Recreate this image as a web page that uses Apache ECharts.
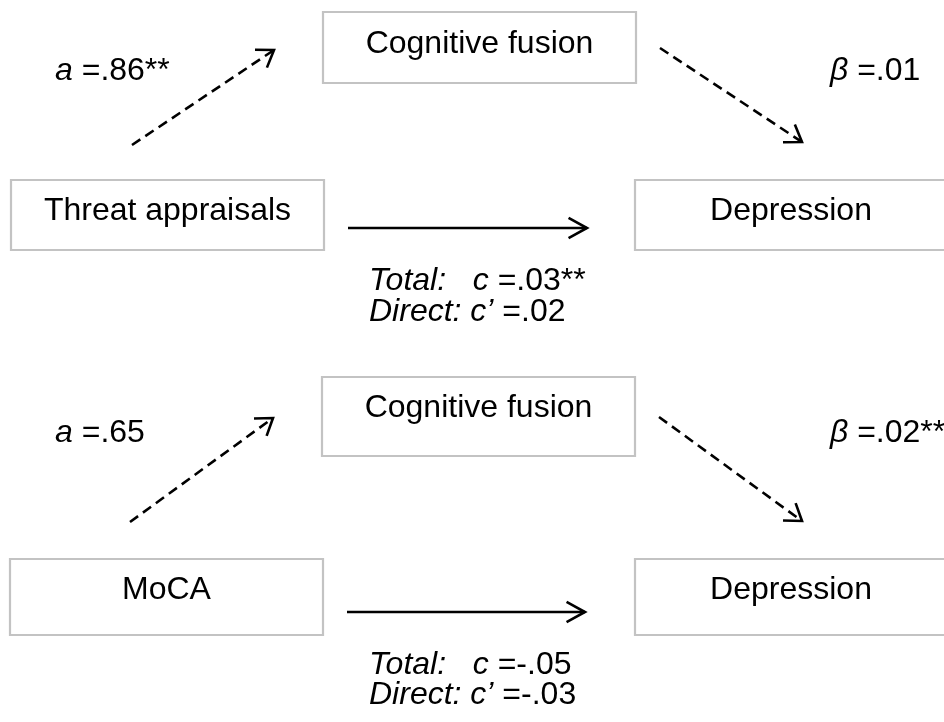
<!DOCTYPE html>
<html>
<head>
<meta charset="utf-8">
<script src="https://cdn.jsdelivr.net/npm/echarts@6/dist/echarts.min.js"></script>
<style>
html,body{margin:0;padding:0;background:#fff;}
#chart{width:944px;height:722px;}
</style>
</head>
<body>
<div id="chart"></div>
<script>
// ---- Data (diagram text / coefficients) ----
const predictors = ['Threat appraisals', 'MoCA'];
const mediators = ['Cognitive fusion', 'Cognitive fusion'];
const outcomes = ['Depression', 'Depression'];
const aCoef = ['.86**', '.65'];
const bCoef = ['.01', '.02**'];
const totalC = ['.03**', '-.05'];
const directC = ['.02', '-.03'];

// ---- Layout (diagram units on a hidden 944 x 722 value grid) ----
const panelLayout = [
  { med: [323, 12, 636, 83, 44], x: [11, 180, 324, 250, 211], y: [635, 180, 947, 250, 211],
    a: [132, 145, 274, 50], b: [660, 48, 802, 142], c: [348, 228, 587, 228],
    aLbl: [55, 71], bLbl: [830, 71], eff: [369, 281, 312] },
  { med: [322, 377, 635, 456, 408], x: [10, 559, 323, 635, 590], y: [635, 559, 947, 635, 590],
    a: [130, 522, 273, 418], b: [659, 417, 802, 521], c: [347, 612, 585, 612],
    aLbl: [55, 433], bLbl: [830, 433], eff: [369, 665, 695] }
];

const FONT_FAMILY = '"Liberation Sans", Arial, Helvetica, sans-serif';
const FS = 32;

// Build series data
const boxData = [], boxText = [];
const arrowData = [], arrowDash = [];
const labelData = [], labelText = [];
panelLayout.forEach((L, i) => {
  [[L.x, predictors[i]], [L.med, mediators[i]], [L.y, outcomes[i]]].forEach(([r, t]) => {
    boxData.push({ value: r });
    boxText.push(t);
  });
  arrowData.push({ value: L.a }); arrowDash.push(true);
  arrowData.push({ value: L.b }); arrowDash.push(true);
  arrowData.push({ value: L.c }); arrowDash.push(false);
  labelData.push({ value: L.aLbl }); labelText.push('{i|a} =' + aCoef[i]);
  labelData.push({ value: L.bLbl }); labelText.push('{i|β} =' + bCoef[i]);
  labelData.push({ value: [L.eff[0], L.eff[1]] }); labelText.push('{i|Total:   c} =' + totalC[i]);
  labelData.push({ value: [L.eff[0], L.eff[2]] }); labelText.push('{i|Direct: c’} =' + directC[i]);
});

const richIt = { i: { fontStyle: 'italic', fontSize: FS, fontFamily: FONT_FAMILY, fill: '#000' } };

const chart = echarts.init(document.getElementById('chart'), null, { renderer: 'canvas' });
chart.setOption({
  animation: false,
  backgroundColor: '#ffffff',
  grid: { left: 0, right: 0, top: 0, bottom: 0 },
  xAxis: { type: 'value', min: 0, max: 944, show: false },
  yAxis: { type: 'value', min: 0, max: 722, inverse: true, show: false },
  series: [
    {
      type: 'custom', clip: false, silent: true,
      data: boxData,
      renderItem: function (params, api) {
        const p1 = api.coord([api.value(0), api.value(1)]);
        const p2 = api.coord([api.value(2), api.value(3)]);
        const ty = api.coord([0, api.value(4)])[1];
        return {
          type: 'group',
          children: [
            { type: 'rect', shape: { x: p1[0], y: p1[1], width: p2[0] - p1[0], height: p2[1] - p1[1] },
              style: { fill: '#fff', stroke: '#c3c3c3', lineWidth: 2.2 } },
            { type: 'text', x: (p1[0] + p2[0]) / 2, y: ty,
              style: { text: boxText[params.dataIndex], fill: '#000', fontSize: FS, fontFamily: FONT_FAMILY,
                       align: 'center', verticalAlign: 'middle' } }
          ]
        };
      }
    },
    {
      type: 'custom', clip: false, silent: true,
      data: arrowData,
      renderItem: function (params, api) {
        const p1 = api.coord([api.value(0), api.value(1)]);
        const p2 = api.coord([api.value(2), api.value(3)]);
        const ang = Math.atan2(p2[1] - p1[1], p2[0] - p1[0]);
        const dashed = arrowDash[params.dataIndex];
        const h = dashed ? 19 : 21, sp = dashed ? 0.6 : 0.5;
        const l = [p2[0] - h * Math.cos(ang - sp), p2[1] - h * Math.sin(ang - sp)];
        const r = [p2[0] - h * Math.cos(ang + sp), p2[1] - h * Math.sin(ang + sp)];
        return {
          type: 'group',
          children: [
            { type: 'line', shape: { x1: p1[0], y1: p1[1], x2: p2[0], y2: p2[1] },
              style: { stroke: '#000', lineWidth: 2.6, lineDash: dashed ? [10, 6] : null } },
            { type: 'polyline', shape: { points: [l, p2, r] },
              style: { stroke: '#000', lineWidth: 2.6, fill: null } }
          ]
        };
      }
    },
    {
      type: 'custom', clip: false, silent: true,
      data: labelData,
      renderItem: function (params, api) {
        const p = api.coord([api.value(0), api.value(1)]);
        return {
          type: 'text', x: p[0], y: p[1],
          style: { text: labelText[params.dataIndex], rich: richIt, fill: '#000', fontSize: FS,
                   fontFamily: FONT_FAMILY, align: 'left', verticalAlign: 'middle' }
        };
      }
    }
  ]
});
</script>
</body>
</html>
